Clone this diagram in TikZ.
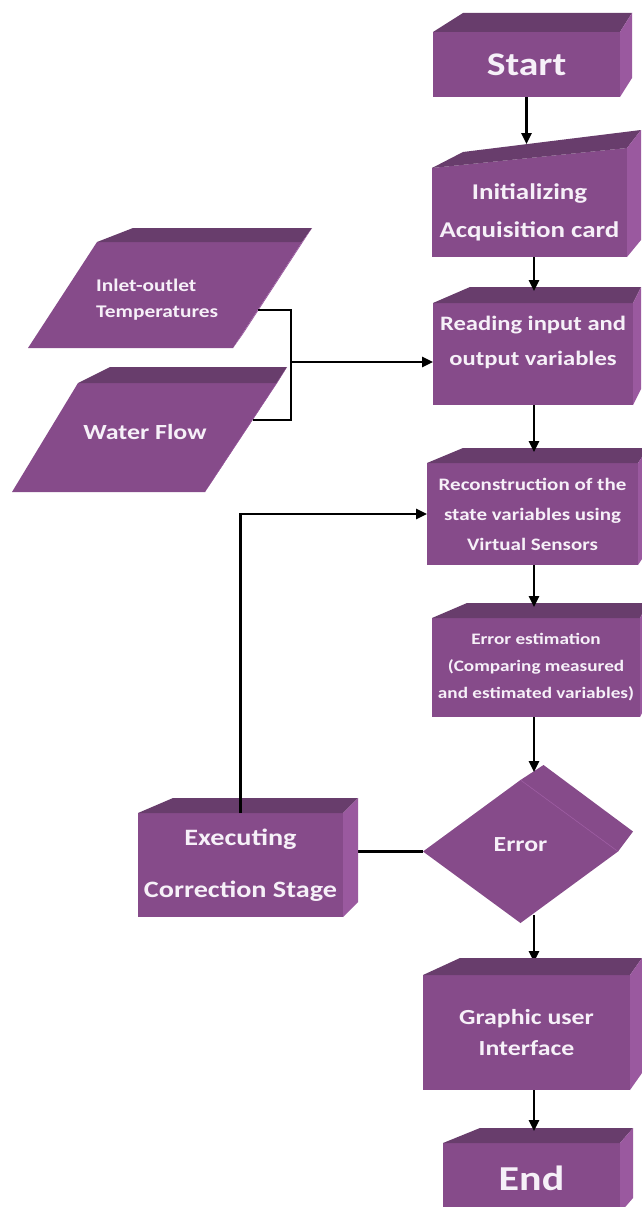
\documentclass[tikz,border=0pt]{standalone}
\usepackage{fontspec}
\setmainfont{Carlito}[FakeStretch=1.2]
\usetikzlibrary{shapes.geometric,arrows.meta,calc,backgrounds}

\definecolor{frontc}{HTML}{864B8A}
\definecolor{topc}{HTML}{683D6C}
\definecolor{sidec}{HTML}{9A599F}
\definecolor{txtc}{HTML}{F6F0F8}

\tikzset{
  face/.style={fill=frontc, draw=none, inner sep=0pt, outer sep=0pt, text=txtc, align=center},
  topface/.style={fill=topc},
  sideface/.style={fill=sidec},
  fs/.style 2 args={font=\fontsize{#1}{#2}\selectfont\bfseries},
  flow/.style={line width=2.5pt, -{Triangle[length=11pt,width=10pt]}},
  link/.style={line width=2.5pt, line join=miter},
}

% top and right faces of a box node: #1 name, #2 left shift, #3 right shift, #4 depth
\newcommand\cubefaces[4]{%
  \fill[topface] (#1.north west) -- ++(#2,-#4) -- ($(#1.north east)+(#3,-#4)$) -- (#1.north east) -- cycle;
  \fill[sideface] (#1.north east) -- ++(#3,-#4) -- ($(#1.south east)+(#3,-#4)$) -- (#1.south east) -- cycle;
}

\begin{document}
\begin{tikzpicture}[x=1pt,y=-1pt]
\useasboundingbox (0,0) rectangle (641,1207);

% ---- main column ----
\node[face, fs={33}{33}, minimum width=187pt, minimum height=65pt] (start) at (526.5,64.5) {Start};
\cubefaces{start}{30}{12}{19}

\node[face, fs={22.5}{38}, minimum width=195pt, minimum height=89pt] (init) at (529.5,212.5) {Initializing\\Acquisition card};
\fill[frontc] (init.north west) -- ($(init.north east)+(0,-20)$) -- (init.north east) -- cycle;
\fill[topface] (init.north west) -- ++(31,-16) -- ($(init.north east)+(14,-38)$) -- ($(init.north east)+(0,-20)$) -- cycle;
\fill[sideface] ($(init.north east)+(0,-20)$) -- ++(14,-18) -- ($(init.south east)+(14,-17)$) -- (init.south east) -- cycle;

\node[face, fs={20.5}{35}, minimum width=200pt, minimum height=102pt, text depth=26pt] (read) at (533,354) {Reading input and\\output variables};
\cubefaces{read}{37}{8}{16}

\node[face, fs={17.5}{30}, minimum width=211pt, minimum height=102pt] (recon) at (532.5,514) {Reconstruction of the\\state variables using\\Virtual Sensors};
\cubefaces{recon}{36}{10}{15}

\node[face, fs={16}{27}, minimum width=208pt, minimum height=99pt] (errest) at (536,667.5) {Error estimation\\(Comparing measured\\and estimated variables)};
\cubefaces{errest}{35}{8}{15}

\node[face, shape=diamond, fs={21.5}{21.5}, minimum width=195pt, minimum height=143pt] (dia) at (520.5,851.5) {\raisebox{13pt}{Error}};
\fill[frontc] (dia.north) -- ++(23,-15) -- ($(dia.east)+(15,-20)$) -- (dia.east) -- cycle;
\draw[sidec, line width=0.7pt] (dia.north) -- (dia.east);

\node[face, fs={23.5}{52}, minimum width=205pt, minimum height=104pt] (exec) at (240.5,865) {Executing\\Correction Stage};
\cubefaces{exec}{35}{15}{15}

\node[face, fs={21.5}{31}, minimum width=207pt, minimum height=115pt] (gui) at (526.5,1032.5) {Graphic user\\Interface};
\cubefaces{gui}{37}{12}{17}

\node[face, fs={35}{35}, minimum width=177pt, minimum height=70pt] (end) at (531.5,1178) {End};
\cubefaces{end}{37}{13}{15}

% ---- input parallelograms ----
\fill[frontc] (28,348) -- (233,348) -- (302,242) -- (97,242) -- cycle;
\fill[topface] (97,242) -- (133,228) -- (312,228) -- (302,242) -- cycle;
\fill[sideface] (302,242) -- (312,228) -- (243,334) -- (233,348) -- cycle;
\node[fs={17.8}{26}, text=txtc, align=left, anchor=west, inner sep=0pt] (temp) at (96,300) {Inlet-outlet\\Temperatures};

\fill[frontc] (12,492) -- (205,492) -- (277,383) -- (78,383) -- cycle;
\fill[topface] (78,383) -- (110,367) -- (287,367) -- (277,383) -- cycle;
\fill[sideface] (277,383) -- (287,367) -- (215,476) -- (205,492) -- cycle;
\node[fs={21.6}{22}, text=txtc, inner sep=0pt] (water) at (145,432) {Water Flow};

\coordinate (tempout) at (258,310);
\coordinate (waterout) at (253,420);
\coordinate (join) at (291,362);
\coordinate (trunk) at (534,0);

% ---- connectors ----
\begin{pgfonlayer}{background}
  \fill[white] (0,0) rectangle (641,1207);
  \draw[flow, shorten <=-8pt, shorten >=13pt] (dia.south -| trunk) -- (gui.north -| trunk);
  \draw[link] (dia.west) -- (dia.west -| exec.east);
\end{pgfonlayer}

\draw[flow, shorten >=24pt] (start.south) -- (start.south |- init.north);
\draw[flow, shorten >=12pt] (init.south -| trunk) -- (read.north -| trunk);
\draw[flow, shorten >=11pt] (read.south -| trunk) -- (recon.north -| trunk);
\draw[flow, shorten >=11pt] (recon.south -| trunk) -- (errest.north -| trunk);
\draw[flow, shorten >=8pt] (errest.south -| trunk) -- (dia.north -| trunk);
\draw[flow, shorten >=12pt] (gui.south -| trunk) -- (end.north -| trunk);

\draw[link] (tempout) -| (join) |- (waterout);
\draw[flow] (join) -- (join -| read.west);
\draw[flow] (exec.north) |- (recon.west);
\end{tikzpicture}
\end{document}
